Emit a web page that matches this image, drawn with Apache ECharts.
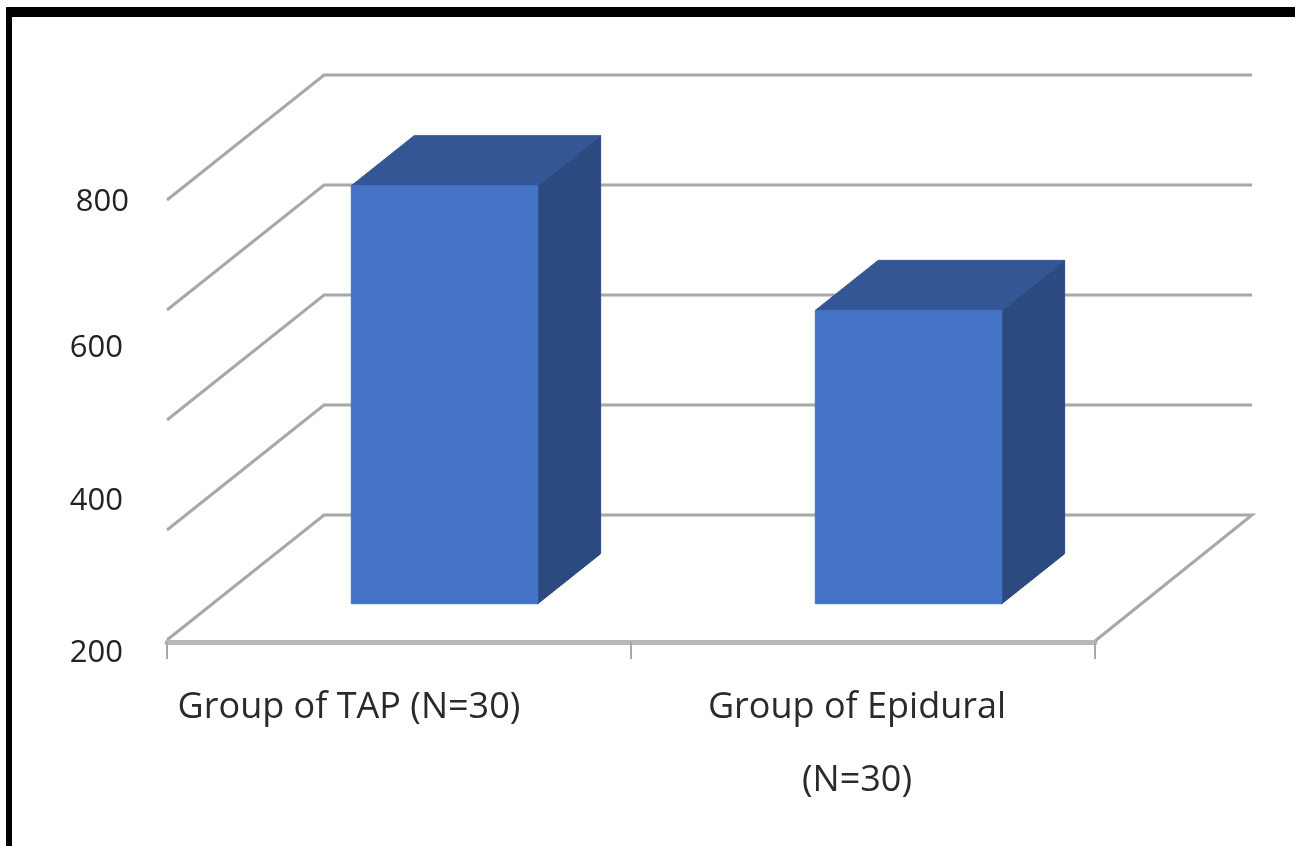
<!DOCTYPE html>
<html>
<head>
<meta charset="utf-8">
<style>html,body{margin:0;padding:0;background:#fff}#chart{width:1295px;height:846px}</style>
<script src="https://cdn.jsdelivr.net/npm/echarts@6/dist/echarts.min.js"></script>
</head>
<body>
<div id="chart"></div>
<script>
// Chart data
const categories = ['Group of TAP (N=30)', 'Group of Epidural\n(N=30)'];
const barValues = [770, 600];
const wallLevels = [200, 350, 500, 650, 800];
const axisMin = 200;
const axisMax = 800;
const axisStep = 200;

// Oblique projection of the floor, as fractions of one category band
const DEPTH_X = 0.3385;
const DEPTH_Y = 0.2695;
const BAR_FRONT = 0.29;
const BAR_BACK = 0.69;
const BAR_WIDTH = 0.402;

const WALL = '#a8a8a8';
const FRONT = '#4472c4';
const SIDE = '#2b4a7f';
const TOP = '#345694';

function renderWall(params, api) {
  const v = api.value(1);
  const band = api.size([1, 0])[0];
  const p = api.coord([0, v]);
  const left = p[0] - band / 2;
  const right = left + band * categories.length;
  const y = p[1];
  const dx = band * DEPTH_X;
  const dy = band * DEPTH_Y;
  const line = { stroke: WALL, lineWidth: 3, fill: null, lineJoin: 'miter' };
  const pts = [[left, y], [left + dx, y - dy], [right + dx, y - dy]];
  if (v === axisMin) pts.push([right, y + 1]);
  return { type: 'polyline', shape: { points: pts }, style: line, silent: true };
}

function renderBar(params, api) {
  const i = api.value(0);
  const v = api.value(1);
  const band = api.size([1, 0])[0];
  const top = api.coord([i, v]);
  const base = api.coord([i, axisMin]);
  const w = band * BAR_WIDTH;
  const fx = band * DEPTH_X * BAR_FRONT;
  const fy = band * DEPTH_Y * BAR_FRONT;
  const bx = band * DEPTH_X * BAR_BACK;
  const by = band * DEPTH_Y * BAR_BACK;
  const x0 = top[0] - w / 2;
  const x1 = top[0] + w / 2;
  const poly = (points, fill) => ({
    type: 'polygon',
    shape: { points },
    style: { fill, stroke: fill, lineWidth: 1 }
  });
  return {
    type: 'group',
    children: [
      poly([[x1 + fx, top[1] - fy], [x1 + bx, top[1] - by], [x1 + bx, base[1] - by], [x1 + fx, base[1] - fy]], SIDE),
      poly([[x0 + fx, top[1] - fy], [x0 + bx, top[1] - by], [x1 + bx, top[1] - by], [x1 + fx, top[1] - fy]], TOP),
      poly([[x0 + fx, top[1] - fy], [x1 + fx, top[1] - fy], [x1 + fx, base[1] - fy], [x0 + fx, base[1] - fy]], FRONT)
    ]
  };
}

const chart = echarts.init(document.getElementById('chart'), null, { renderer: 'canvas' });
const valueFont = { fontFamily: 'Open Sans', fontSize: 31, color: '#222222' };
const categoryFont = { fontFamily: 'Open Sans', fontSize: 36, color: '#2a2a2a', lineHeight: 73 };
chart.setOption({
  animation: false,
  backgroundColor: '#ffffff',
  grid: { left: 167, top: 200, width: 928, height: 440 },
  graphic: [
    { type: 'rect', shape: { x: 6, y: 7, width: 1289, height: 10 }, style: { fill: '#000000' } },
    { type: 'rect', shape: { x: 6, y: 7, width: 6, height: 839 }, style: { fill: '#000000' } }
  ],
  xAxis: {
    type: 'category',
    data: categories,
    offset: 2,
    axisLine: { lineStyle: { color: '#b8b8b8', width: 5 } },
    axisTick: { show: true, length: 17, lineStyle: { color: '#a8a8a8', width: 2 } },
    axisLabel: {
      margin: 29,
      interval: 0,
      formatter: (name, idx) => name.split('\n').map(t => `{c${idx}|${t}}`).join('\n'),
      rich: {
        c0: { ...categoryFont, padding: [0, 100, 0, 0] },
        c1: { ...categoryFont, padding: [0, 12, 0, 0] }
      }
    }
  },
  yAxis: {
    type: 'value',
    min: axisMin,
    max: axisMax,
    interval: axisStep,
    splitLine: { show: false },
    axisLine: { show: false },
    axisTick: { show: false },
    axisLabel: {
      margin: 38,
      formatter: v => `{v${v}|${v}}`,
      rich: {
        v200: { ...valueFont, padding: [26, 6, 0, 0] },
        v400: { ...valueFont, padding: [16, 6, 0, 0] },
        v600: { ...valueFont, padding: [4, 6, 0, 0] },
        v800: { ...valueFont, padding: [4, 0, 0, 0] }
      }
    }
  },
  series: [
    {
      type: 'custom',
      z: 1,
      renderItem: renderWall,
      data: wallLevels.map(v => [0, v]),
      silent: true
    },
    {
      type: 'custom',
      z: 3,
      renderItem: renderBar,
      data: barValues.map((v, i) => [i, v]),
      encode: { x: 0, y: 1 },
      silent: true
    }
  ]
});
</script>
</body>
</html>
